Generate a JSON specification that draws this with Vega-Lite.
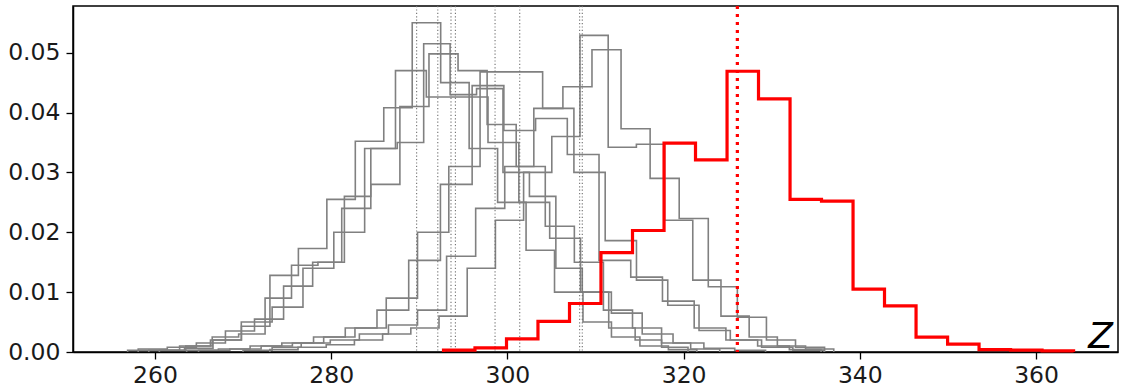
{
  "$schema": "https://vega.github.io/schema/vega-lite/v6.json",
  "width": 1045,
  "height": 346,
  "autosize": "none",
  "padding": {"left": 73, "top": 6, "right": 6, "bottom": 38},
  "background": "white",
  "config": {
    "view": {"stroke": "black", "strokeWidth": 1.5},
    "axis": {"grid": false, "domainColor": "black", "domainWidth": 1.5, "tickColor": "black", "tickWidth": 1.3, "tickSize": 7, "labelFont": "DejaVu Sans", "labelFontSize": 23.5, "labelColor": "#1a1a1a"}
  },
  "datasets": {
    "gray": [
      {"s":"g1","x":256.9,"y":0},{"s":"g1","x":256.9,"y":0.0003},{"s":"g1","x":260.13,"y":0.0003},{"s":"g1","x":263.36,"y":0.0006},{"s":"g1","x":266.59,"y":0.002},{"s":"g1","x":269.82,"y":0.0043},{"s":"g1","x":273.05,"y":0.0128},{"s":"g1","x":276.28,"y":0.0173},{"s":"g1","x":279.51,"y":0.0255},{"s":"g1","x":282.74,"y":0.0352},{"s":"g1","x":285.97,"y":0.0408},{"s":"g1","x":289.2,"y":0.055},{"s":"g1","x":292.43,"y":0.045},{"s":"g1","x":295.66,"y":0.034},{"s":"g1","x":298.89,"y":0.025},{"s":"g1","x":302.12,"y":0.017},{"s":"g1","x":305.35,"y":0.010},{"s":"g1","x":308.58,"y":0.005},{"s":"g1","x":311.81,"y":0.0025},{"s":"g1","x":315.04,"y":0.001},{"s":"g1","x":318.27,"y":0.0004},{"s":"g1","x":321.5,"y":0},

      {"s":"g2","x":260.5,"y":0},{"s":"g2","x":260.5,"y":0.0003},{"s":"g2","x":263.5,"y":0.001},{"s":"g2","x":266.5,"y":0.0025},{"s":"g2","x":269.5,"y":0.003},{"s":"g2","x":272.5,"y":0.009},{"s":"g2","x":275.5,"y":0.0145},{"s":"g2","x":278.5,"y":0.015},{"s":"g2","x":281.5,"y":0.026},{"s":"g2","x":284.5,"y":0.034},{"s":"g2","x":287.5,"y":0.035},{"s":"g2","x":290.5,"y":0.0515},{"s":"g2","x":293.5,"y":0.043},{"s":"g2","x":296.5,"y":0.044},{"s":"g2","x":299.5,"y":0.030},{"s":"g2","x":302.5,"y":0.026},{"s":"g2","x":305.5,"y":0.014},{"s":"g2","x":308.5,"y":0.010},{"s":"g2","x":311.5,"y":0.004},{"s":"g2","x":314.5,"y":0.002},{"s":"g2","x":317.5,"y":0.0008},{"s":"g2","x":320.5,"y":0},

      {"s":"g3","x":258.1,"y":0},{"s":"g3","x":258.1,"y":0.0005},{"s":"g3","x":261.4,"y":0.0008},{"s":"g3","x":264.7,"y":0.0015},{"s":"g3","x":268.0,"y":0.0035},{"s":"g3","x":271.3,"y":0.0055},{"s":"g3","x":274.6,"y":0.011},{"s":"g3","x":277.9,"y":0.015},{"s":"g3","x":281.2,"y":0.024},{"s":"g3","x":284.5,"y":0.028},{"s":"g3","x":287.8,"y":0.041},{"s":"g3","x":291.1,"y":0.0498},{"s":"g3","x":294.4,"y":0.047},{"s":"g3","x":297.7,"y":0.038},{"s":"g3","x":301.0,"y":0.031},{"s":"g3","x":304.3,"y":0.021},{"s":"g3","x":307.6,"y":0.015},{"s":"g3","x":310.9,"y":0.007},{"s":"g3","x":314.2,"y":0.004},{"s":"g3","x":317.5,"y":0.0015},{"s":"g3","x":320.8,"y":0.0005},{"s":"g3","x":324.1,"y":0},

      {"s":"g4","x":259.3,"y":0},{"s":"g4","x":259.3,"y":0.0003},{"s":"g4","x":262.8,"y":0.001},{"s":"g4","x":266.3,"y":0.002},{"s":"g4","x":269.8,"y":0.005},{"s":"g4","x":273.3,"y":0.0075},{"s":"g4","x":276.8,"y":0.014},{"s":"g4","x":280.3,"y":0.020},{"s":"g4","x":283.8,"y":0.034},{"s":"g4","x":287.3,"y":0.047},{"s":"g4","x":290.8,"y":0.0426},{"s":"g4","x":294.3,"y":0.0426},{"s":"g4","x":297.8,"y":0.035},{"s":"g4","x":301.3,"y":0.025},{"s":"g4","x":304.8,"y":0.019},{"s":"g4","x":308.3,"y":0.010},{"s":"g4","x":311.8,"y":0.0065},{"s":"g4","x":315.3,"y":0.003},{"s":"g4","x":318.8,"y":0.0015},{"s":"g4","x":322.3,"y":0.0006},{"s":"g4","x":325.8,"y":0.0003},{"s":"g4","x":329.3,"y":0},

      {"s":"g5","x":263.6,"y":0},{"s":"g5","x":263.6,"y":0.0003},{"s":"g5","x":267.2,"y":0.0005},{"s":"g5","x":270.8,"y":0.001},{"s":"g5","x":274.4,"y":0.0015},{"s":"g5","x":278.0,"y":0.0025},{"s":"g5","x":281.6,"y":0.004},{"s":"g5","x":285.2,"y":0.007},{"s":"g5","x":288.8,"y":0.0153},{"s":"g5","x":292.4,"y":0.028},{"s":"g5","x":296.0,"y":0.0445},{"s":"g5","x":299.6,"y":0.037},{"s":"g5","x":303.2,"y":0.039},{"s":"g5","x":306.8,"y":0.033},{"s":"g5","x":310.4,"y":0.0153},{"s":"g5","x":314.0,"y":0.0125},{"s":"g5","x":317.6,"y":0.0085},{"s":"g5","x":321.2,"y":0.004},{"s":"g5","x":324.8,"y":0.002},{"s":"g5","x":328.4,"y":0.001},{"s":"g5","x":332.0,"y":0.0004},{"s":"g5","x":335.6,"y":0},

      {"s":"g6","x":264.95,"y":0},{"s":"g6","x":264.95,"y":0.0003},{"s":"g6","x":268.5,"y":0.0005},{"s":"g6","x":272.05,"y":0.001},{"s":"g6","x":275.6,"y":0.0015},{"s":"g6","x":279.15,"y":0.0025},{"s":"g6","x":282.7,"y":0.004},{"s":"g6","x":286.25,"y":0.009},{"s":"g6","x":289.8,"y":0.020},{"s":"g6","x":293.35,"y":0.031},{"s":"g6","x":296.9,"y":0.0468},{"s":"g6","x":300.45,"y":0.0468},{"s":"g6","x":304.0,"y":0.0407},{"s":"g6","x":307.55,"y":0.030},{"s":"g6","x":311.1,"y":0.0186},{"s":"g6","x":314.65,"y":0.012},{"s":"g6","x":318.2,"y":0.0078},{"s":"g6","x":321.75,"y":0.0036},{"s":"g6","x":325.3,"y":0.002},{"s":"g6","x":328.85,"y":0.0008},{"s":"g6","x":332.4,"y":0.0003},{"s":"g6","x":335.95,"y":0},

      {"s":"g7","x":273.04,"y":0},{"s":"g7","x":273.04,"y":0.0004},{"s":"g7","x":276.24,"y":0.0008},{"s":"g7","x":279.44,"y":0.0012},{"s":"g7","x":282.64,"y":0.002},{"s":"g7","x":285.84,"y":0.003},{"s":"g7","x":289.04,"y":0.004},{"s":"g7","x":292.24,"y":0.006},{"s":"g7","x":295.44,"y":0.014},{"s":"g7","x":298.64,"y":0.022},{"s":"g7","x":301.84,"y":0.030},{"s":"g7","x":305.04,"y":0.036},{"s":"g7","x":308.24,"y":0.0529},{"s":"g7","x":311.44,"y":0.0342},{"s":"g7","x":314.64,"y":0.0347},{"s":"g7","x":317.84,"y":0.022},{"s":"g7","x":321.04,"y":0.012},{"s":"g7","x":324.24,"y":0.006},{"s":"g7","x":327.44,"y":0.0025},{"s":"g7","x":330.64,"y":0.001},{"s":"g7","x":333.84,"y":0.0005},{"s":"g7","x":337.04,"y":0},

      {"s":"g8","x":270.0,"y":0},{"s":"g8","x":270.0,"y":0.0003},{"s":"g8","x":273.3,"y":0.0008},{"s":"g8","x":276.6,"y":0.0015},{"s":"g8","x":279.9,"y":0.002},{"s":"g8","x":283.2,"y":0.003},{"s":"g8","x":286.5,"y":0.0045},{"s":"g8","x":289.8,"y":0.007},{"s":"g8","x":293.1,"y":0.016},{"s":"g8","x":296.4,"y":0.024},{"s":"g8","x":299.7,"y":0.031},{"s":"g8","x":303.0,"y":0.0407},{"s":"g8","x":306.3,"y":0.0443},{"s":"g8","x":309.6,"y":0.0505},{"s":"g8","x":312.9,"y":0.0373},{"s":"g8","x":316.2,"y":0.029},{"s":"g8","x":319.5,"y":0.0223},{"s":"g8","x":322.8,"y":0.0109},{"s":"g8","x":326.1,"y":0.0058},{"s":"g8","x":329.4,"y":0.002},{"s":"g8","x":332.7,"y":0.0008},{"s":"g8","x":336.0,"y":0}
    ],
    "red": [
      {"s":"r","x":292.75,"y":0},{"s":"r","x":292.75,"y":0.0003},{"s":"r","x":296.32,"y":0.0007},{"s":"r","x":299.9,"y":0.0022},{"s":"r","x":303.47,"y":0.0051},{"s":"r","x":307.05,"y":0.0081},{"s":"r","x":310.62,"y":0.0166},{"s":"r","x":314.2,"y":0.0203},{"s":"r","x":317.78,"y":0.0349},{"s":"r","x":321.35,"y":0.0321},{"s":"r","x":324.93,"y":0.0469},{"s":"r","x":328.5,"y":0.0423},{"s":"r","x":332.08,"y":0.0255},{"s":"r","x":335.65,"y":0.0252},{"s":"r","x":339.23,"y":0.0105},{"s":"r","x":342.8,"y":0.0077},{"s":"r","x":346.38,"y":0.0025},{"s":"r","x":349.96,"y":0.0013},{"s":"r","x":353.53,"y":0.0004},{"s":"r","x":357.11,"y":0.0003},{"s":"r","x":360.68,"y":0.0002},{"s":"r","x":364.26,"y":0}
    ],
    "grayMeans": [
      {"x":289.7},{"x":292.1},{"x":293.6},{"x":294.1},{"x":298.6},{"x":301.4},{"x":308.2},{"x":308.5}
    ],
    "redMean": [{"x":326.1}]
  },
  "layer": [
    {
      "data": {"name": "gray"},
      "mark": {"type": "line", "interpolate": "step-after", "color": "#808080", "strokeWidth": 1.6},
      "encoding": {
        "x": {"field": "x", "type": "quantitative", "scale": {"domain": [250.7, 369.3], "nice": false, "zero": false},
              "axis": {"values": [260, 280, 300, 320, 340, 360], "labelPadding": 4, "title": "Z", "titleFont": "DejaVu Sans", "titleFontStyle": "italic", "titleFontWeight": "normal", "titleFontSize": 36, "titleColor": "black", "titleAlign": "center", "titleBaseline": "alphabetic", "titleX": 1027, "titleY": -5, "titleAngle": 0}},
        "y": {"field": "y", "type": "quantitative", "scale": {"domain": [0, 0.0578], "nice": false},
              "axis": {"values": [0, 0.01, 0.02, 0.03, 0.04, 0.05], "format": ".2f", "title": null, "labelPadding": 6}},
        "detail": {"field": "s"},
        "order": {"value": null}
      }
    },
    {
      "data": {"name": "grayMeans"},
      "mark": {"type": "rule", "color": "#707070", "strokeWidth": 1.1, "strokeDash": [1.2, 2.2]},
      "encoding": {"x": {"field": "x", "type": "quantitative"}}
    },
    {
      "data": {"name": "red"},
      "mark": {"type": "line", "interpolate": "step-after", "color": "#ff0000", "strokeWidth": 3.2},
      "encoding": {
        "x": {"field": "x", "type": "quantitative"},
        "y": {"field": "y", "type": "quantitative"},
        "order": {"value": null}
      }
    },
    {
      "data": {"name": "redMean"},
      "mark": {"type": "rule", "color": "#ff0000", "strokeWidth": 3.2, "strokeDash": [3, 5]},
      "encoding": {"x": {"field": "x", "type": "quantitative"}}
    }
  ]
}
